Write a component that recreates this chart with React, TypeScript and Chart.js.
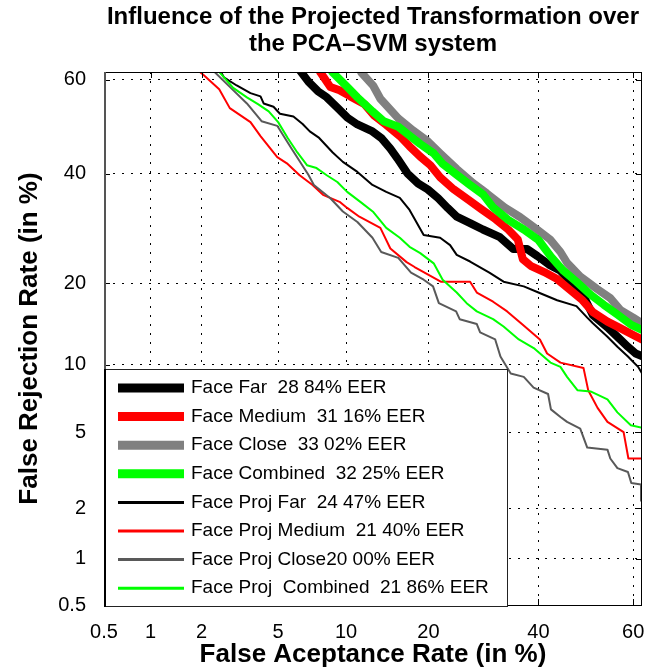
import React, { useEffect, useRef } from 'react';
import { Chart, registerables, LinearScale } from 'chart.js';

Chart.register(...registerables);

// ---------- data (False Acceptance %, False Rejection %) ----------
const faceFarFA = [5.8, 6.3, 6.9, 7.6, 8.3, 9.2, 10.1, 11.1, 12.7, 13.7, 14.8, 15.7, 17, 18.5, 19.9, 21.5, 23, 24.5, 26.8, 29.1, 32.3, 34.9, 37.7, 39.8, 42.4, 44.6, 46.6, 49.3, 51.5, 54.6, 56.7, 58.9, 60.5, 62.5];
const faceFarFR = [64, 62, 59.6, 57.6, 56.3, 54.1, 52, 50.5, 49, 47.6, 45.3, 43.2, 40.1, 38, 36.8, 35, 33.1, 31.4, 30.2, 29, 27.6, 25.5, 25.5, 24.3, 22.8, 21.9, 20.3, 18.4, 15.5, 14, 12.9, 11.8, 11.1, 10.7];

const faceMediumFA = [7.3, 7.8, 8.6, 9.4, 10.4, 11.8, 12.9, 14.3, 16, 17.3, 18.8, 20.3, 21.8, 24, 26.5, 28.9, 31.5, 33.9, 35.8, 36.8, 38.4, 41.2, 43.9, 46.6, 49.3, 51.5, 54.6, 57.3, 60, 62.5];
const faceMediumFR = [64, 61.5, 58.5, 57.8, 56.5, 54.9, 52.4, 50.4, 48, 45.8, 43.6, 41.8, 39.3, 36.8, 34.7, 32.8, 30.9, 29, 27.2, 23.8, 22.7, 21.7, 20.6, 19, 17.5, 15.9, 14.7, 13.9, 13.1, 12.4];

const faceCloseFA = [10.9, 11.5, 12.8, 13.6, 15.8, 17.8, 19.8, 21.8, 24.5, 27.3, 29.8, 33.2, 36.3, 39.7, 42.4, 44.6, 46, 48.8, 52.4, 55.2, 57.3, 60, 62.5];
const faceCloseFR = [64, 61.5, 58.7, 56, 51.8, 49.2, 47, 44.3, 41, 38.1, 36, 33.2, 31.3, 29, 27.2, 25, 23.2, 21, 19.1, 17.8, 16.2, 15.2, 14.2];

const faceCombinedFA = [8.1, 8.8, 10.1, 11.1, 12.7, 14, 15.8, 17.3, 18.8, 20.8, 22.2, 24.5, 26.8, 29.2, 31, 33.9, 37, 40, 42.6, 45.1, 48, 51, 53.8, 56.7, 59.6, 62.5];
const faceCombinedFR = [64, 61.5, 58.5, 56.3, 53.3, 51.2, 50, 48.1, 46.3, 44.3, 42.1, 39.8, 37.7, 35.7, 33.2, 30.8, 29, 27.1, 24.2, 22, 20.2, 18.3, 16.9, 15.6, 14.3, 13.5];

const projFarFA = [2.35, 2.65, 3.1, 3.65, 4.1, 4.25, 4.75, 5.1, 5.9, 6.5, 7, 7.7, 8.8, 9.7, 11.1, 12.7, 14.3, 16, 17.3, 19.3, 21.8, 23.4, 24.5, 26.8, 30.3, 33, 37, 40, 43.9, 48, 50.3, 51.5, 54.6, 56.7, 58.9, 61, 62.5];
const projFarFR = [64, 60.5, 58.8, 57.2, 56.5, 55, 54.3, 52.8, 52.2, 50.6, 49, 47.6, 44.5, 42.5, 40.4, 37.7, 36.3, 35.1, 32.7, 28, 27.5, 26.2, 24.5, 23.4, 21.6, 20.2, 19.5, 18.6, 17.5, 16.7, 15.2, 14.5, 12.9, 11.8, 10.8, 9.8, 8.7];

const projMediumFA = [1.75, 2.05, 2.5, 2.85, 3.65, 4.1, 4.95, 5.5, 6.3, 7.2, 8, 9.4, 10.1, 11.3, 13.6, 14.8, 16.9, 18, 21.9, 26.8, 28, 31, 33.7, 36.8, 40.3, 41.8, 44.6, 49.5, 50.5, 52.5, 54.6, 58, 59, 62.5];
const projMediumFR = [63, 61, 58, 54, 51, 48, 43.5, 42.2, 39.7, 37.7, 35.7, 34.3, 33.1, 31.4, 29.3, 25.6, 23.3, 22.5, 20.2, 20.2, 18.6, 17.3, 16, 14.3, 12.6, 11.1, 10.2, 9.7, 7.8, 6.5, 5.6, 5, 3.7, 3.7];

const projCloseFA = [2.1, 2.3, 2.85, 3.5, 4.15, 4.95, 5.75, 6.9, 7.3, 8.6, 9.7, 11.1, 12.7, 13.7, 15.8, 17.5, 19.3, 20.7, 21.6, 24.4, 25, 28, 28.6, 31.4, 32.4, 34.4, 37, 39, 42, 42.6, 44.6, 46, 48.8, 50.3, 54.6, 55.2, 56.7, 58.9, 59.6, 61.6, 61.6];
const projCloseFR = [63, 62, 58.5, 55, 51.2, 50.2, 45.5, 39.8, 37.7, 35, 32.4, 30.4, 27.5, 25, 24, 21.6, 20.5, 19.5, 17.1, 16, 15, 14.4, 13.4, 12.6, 10.8, 9.2, 8.9, 8, 7.5, 6.4, 5.9, 5.6, 5.2, 4.2, 4.1, 3.7, 3.3, 3.15, 2.75, 2.7, 2.2];

const projCombinedFA = [2.2, 2.45, 2.97, 3.5, 4, 4.5, 5, 5.55, 6.15, 6.8, 7.5, 8.3, 9.2, 10.1, 11.4, 12.8, 14.3, 16, 17.3, 18.8, 20.8, 22.2, 24.5, 26.2, 28, 31, 33, 36, 39.2, 42.5, 44.6, 46, 48.2, 51, 54.6, 56.7, 59.5, 62.5];
const projCombinedFR = [63, 62, 58.3, 56.3, 54.8, 53.3, 51, 47.6, 44.5, 41.8, 41.2, 39.7, 38.3, 36.3, 34.3, 32.3, 29.3, 27.5, 25.9, 24.8, 23.1, 20.5, 18.6, 17.1, 16, 15, 14.1, 12.6, 11.6, 10.2, 9.8, 8.9, 7.8, 7.7, 7.1, 6.2, 5.4, 5.2];

const seriesLabels = [
  'Face Far  28 84% EER',
  'Face Medium  31 16% EER',
  'Face Close  33 02% EER',
  'Face Combined  32 25% EER',
  'Face Proj Far  24 47% EER',
  'Face Proj Medium  21 40% EER',
  'Face Proj Close20 00% EER',
  'Face Proj  Combined  21 86% EER',
];

const xTickValues = [0.5, 1, 2, 5, 10, 20, 40, 60];
const xTickLabels = ['0.5', '1', '2', '5', '10', '20', '40', '60'];
const yTickValues = [0.5, 1, 2, 5, 10, 20, 40, 60];
const yTickLabels = ['0.5', '1', '2', '5', '10', '20', '40', '60'];
const xMin = 0.5, xMax = 61.8;
const yMin = 0.5, yMax = 61.6;

const titleLines = ['Influence of the Projected Transformation over', 'the PCA\u2013SVM system'];
const xTitle = 'False Aceptance Rate (in %)';
const yTitle = 'False Rejection Rate (in %)';

const FONT = "'Liberation Sans', Arial, Helvetica, sans-serif";

// ---------- probit (normal deviate) scale ----------
function normInv(p: number): number {
  const a = [-3.969683028665376e1, 2.209460984245205e2, -2.759285104469687e2, 1.38357751867269e2, -3.066479806614716e1, 2.506628277459239];
  const b = [-5.447609879822406e1, 1.615858368580409e2, -1.556989798598866e2, 6.680131188771972e1, -1.328068155288572e1];
  const c = [-7.784894002430293e-3, -3.223964580411365e-1, -2.400758277161838, -2.549732539343734, 4.374664141464968, 2.938163982698783];
  const d = [7.784695709041462e-3, 3.224671290700398e-1, 2.445134137142996, 3.754408661907416];
  const pl = 0.02425;
  if (p < pl) {
    const q = Math.sqrt(-2 * Math.log(p));
    return (((((c[0] * q + c[1]) * q + c[2]) * q + c[3]) * q + c[4]) * q + c[5]) / ((((d[0] * q + d[1]) * q + d[2]) * q + d[3]) * q + 1);
  }
  if (p > 1 - pl) {
    const q = Math.sqrt(-2 * Math.log(1 - p));
    return -(((((c[0] * q + c[1]) * q + c[2]) * q + c[3]) * q + c[4]) * q + c[5]) / ((((d[0] * q + d[1]) * q + d[2]) * q + d[3]) * q + 1);
  }
  const q = p - 0.5;
  const r = q * q;
  return ((((((a[0] * r + a[1]) * r + a[2]) * r + a[3]) * r + a[4]) * r + a[5]) * q) / (((((b[0] * r + b[1]) * r + b[2]) * r + b[3]) * r + b[4]) * r + 1);
}
function normCdf(z: number): number {
  const t = 1 / (1 + 0.2316419 * Math.abs(z));
  const dd = 0.3989423 * Math.exp(-z * z / 2);
  const p = dd * t * (0.3193815 + t * (-0.3565638 + t * (1.781478 + t * (-1.821256 + t * 1.330274))));
  return z > 0 ? 1 - p : p;
}
const clampP = (v: number) => Math.min(Math.max(v / 100, 1e-6), 1 - 1e-6);

class ProbitScale extends (LinearScale as any) {
  static id = 'probit';
  static defaults = {};
  determineDataLimits() {
    const o: any = (this as any).options;
    (this as any).min = o.min;
    (this as any).max = o.max;
  }
  buildTicks() {
    const vals = (this as any).axis === 'x' ? xTickValues : yTickValues;
    return vals.map((v) => ({ value: v }));
  }
  getPixelForValue(value: number) {
    const s: any = this;
    const a = normInv(clampP(s.min));
    const b = normInv(clampP(s.max));
    const z = normInv(clampP(value));
    return s.getPixelForDecimal((z - a) / (b - a));
  }
  getValueForPixel(pixel: number) {
    const s: any = this;
    const a = normInv(clampP(s.min));
    const b = normInv(clampP(s.max));
    const dec = s.getDecimalForPixel(pixel);
    return normCdf(a + dec * (b - a)) * 100;
  }
}
Chart.register(ProbitScale as any);

const pts = (xs: number[], ys: number[]) => xs.map((x, i) => ({ x, y: ys[i] }));

// ---------- plugins ----------
const framePlugin = {
  id: 'detFrame',
  afterDatasetsDraw(chart: any) {
    const { ctx, chartArea: ca, scales } = chart;
    ctx.save();
    ctx.strokeStyle = '#000';
    ctx.lineWidth = 1;
    const tl = 6;
    ctx.beginPath();
    xTickValues.forEach((v) => {
      const px = Math.round(scales.x.getPixelForValue(v)) + 0.5;
      ctx.moveTo(px, ca.top);
      ctx.lineTo(px, ca.top + tl);
      ctx.moveTo(px, ca.bottom);
      ctx.lineTo(px, ca.bottom - tl);
    });
    yTickValues.forEach((v) => {
      const py = Math.round(scales.y.getPixelForValue(v)) + 0.5;
      ctx.moveTo(ca.left, py);
      ctx.lineTo(ca.left + tl, py);
      ctx.moveTo(ca.right, py);
      ctx.lineTo(ca.right - tl, py);
    });
    ctx.stroke();
    ctx.strokeRect(Math.round(ca.left) + 0.5, Math.round(ca.top) + 0.5, Math.round(ca.right - ca.left) - 1, Math.round(ca.bottom - ca.top));
    ctx.strokeStyle = '#555';
    ctx.lineWidth = 2;
    ctx.beginPath();
    ctx.moveTo(Math.round(ca.left) + 1, ca.top);
    ctx.lineTo(Math.round(ca.left) + 1, ca.bottom);
    ctx.stroke();
    ctx.restore();
  },
};

const legendPlugin = {
  id: 'insideLegend',
  afterDatasetsDraw(chart: any) {
    const { ctx, chartArea: ca } = chart;
    const left = Math.round(ca.left);
    const bottom = Math.round(ca.bottom) + 2;
    const w = 404;
    const h = 238;
    const top = bottom - h;
    ctx.save();
    ctx.fillStyle = '#fff';
    ctx.fillRect(left, top, w, h);
    ctx.strokeStyle = '#222';
    ctx.lineWidth = 1;
    ctx.strokeRect(left + 0.5, top + 0.5, w - 1, h - 1);
    ctx.strokeStyle = '#000';
    ctx.lineWidth = 2;
    ctx.beginPath();
    ctx.moveTo(left + 1, top);
    ctx.lineTo(left + 1, bottom);
    ctx.stroke();
    ctx.font = `19px ${FONT}`;
    ctx.textBaseline = 'middle';
    ctx.textAlign = 'left';
    chart.data.datasets.forEach((ds: any, i: number) => {
      const y = top + 19 + i * 28.6;
      ctx.strokeStyle = ds.borderColor;
      ctx.lineWidth = ds.borderWidth > 3 ? 9 : 3;
      ctx.lineCap = 'butt';
      ctx.beginPath();
      ctx.moveTo(left + 14, y);
      ctx.lineTo(left + 80, y);
      ctx.stroke();
      ctx.fillStyle = '#000';
      ctx.fillText(ds.label, left + 87, y);
    });
    ctx.restore();
  },
};

export default function App() {
  const canvasRef = useRef<HTMLCanvasElement | null>(null);

  useEffect(() => {
    if (!canvasRef.current) return;
    const mk = (label: string, xs: number[], ys: number[], color: string, width: number, order: number) => ({
      label,
      data: pts(xs, ys),
      borderColor: color,
      backgroundColor: color,
      borderWidth: width,
      pointRadius: 0,
      showLine: true,
      fill: false,
      tension: 0,
      clip: 0,
      order,
      borderJoinStyle: 'round',
      borderCapStyle: 'butt',
    });

    const chart = new Chart(canvasRef.current, {
      type: 'scatter',
      data: {
        datasets: [
          mk(seriesLabels[0], faceFarFA, faceFarFR, '#000000', 8, 7),
          mk(seriesLabels[1], faceMediumFA, faceMediumFR, '#ff0000', 8, 6),
          mk(seriesLabels[2], faceCloseFA, faceCloseFR, '#808080', 8, 5),
          mk(seriesLabels[3], faceCombinedFA, faceCombinedFR, '#00ff00', 8, 4),
          mk(seriesLabels[4], projFarFA, projFarFR, '#000000', 2, 3),
          mk(seriesLabels[5], projMediumFA, projMediumFR, '#ff0000', 2, 2),
          mk(seriesLabels[6], projCloseFA, projCloseFR, '#595959', 2, 1),
          mk(seriesLabels[7], projCombinedFA, projCombinedFR, '#00ff00', 2, 0),
        ] as any,
      },
      options: {
        responsive: false,
        animation: false,
        layout: { padding: { top: 0, right: 3, bottom: 0, left: 0 } },
        plugins: {
          legend: { display: false },
          tooltip: { enabled: false },
          title: {
            display: true,
            fullSize: false,
            text: titleLines,
            color: '#000',
            font: { family: FONT, size: 24, weight: 'bold', lineHeight: 1.125 },
            padding: { top: 3.5, bottom: 14.5 },
          },
        },
        scales: {
          x: {
            type: 'probit' as any,
            min: xMin,
            max: xMax,
            position: 'bottom',
            grid: { color: '#000', lineWidth: 1, drawTicks: false },
            border: { display: false, dash: [2, 7] },
            ticks: {
              autoSkip: false,
              maxRotation: 0,
              padding: 15,
              color: '#000',
              font: { family: FONT, size: 20 },
              callback: (_v: any, i: number) => xTickLabels[i],
            },
            title: {
              display: true,
              text: xTitle,
              color: '#000',
              font: { family: FONT, size: 26, weight: 'bold', lineHeight: 1 },
              padding: { top: 0, bottom: 1 },
            },
            afterFit: (s: any) => {
              s.height = 64;
              s.paddingLeft = 0;
              s.paddingRight = 0;
            },
          } as any,
          y: {
            type: 'probit' as any,
            min: yMin,
            max: yMax,
            position: 'left',
            grid: { color: '#000', lineWidth: 1, drawTicks: false },
            border: { display: false, dash: [2, 7] },
            ticks: {
              autoSkip: false,
              padding: 18,
              color: '#000',
              font: { family: FONT, size: 20 },
              callback: (_v: any, i: number) => yTickLabels[i],
            },
            title: {
              display: true,
              text: yTitle,
              color: '#000',
              font: { family: FONT, size: 26, weight: 'bold', lineHeight: 1 },
              padding: { top: 17, bottom: 0 },
            },
            afterFit: (s: any) => {
              s.width = 104;
              s.paddingTop = 0;
              s.paddingBottom = 0;
            },
          } as any,
        },
      } as any,
      plugins: [framePlugin, legendPlugin],
    });
    return () => chart.destroy();
  }, []);

  return (
    <div style={{ position: 'absolute', left: 0, top: 0, width: 645, height: 669, background: '#fff' }}>
      <canvas ref={canvasRef} width={645} height={669} style={{ display: 'block', width: 645, height: 669 }} />
    </div>
  );
}
